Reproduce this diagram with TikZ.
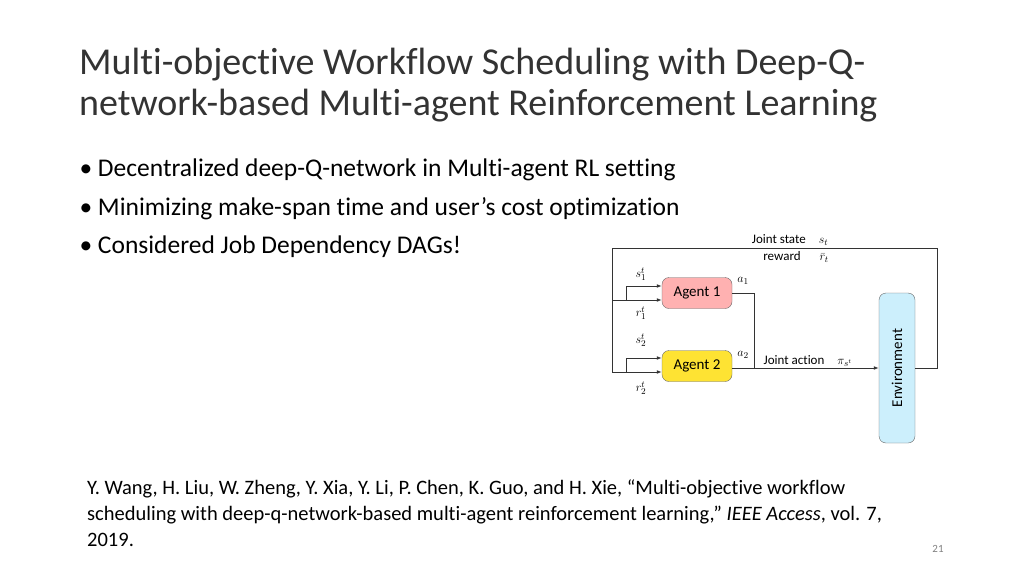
\documentclass[tikz,border=0pt]{standalone}
\usepackage{fontspec}
\setmainfont{Carlito}[RawFeature=-liga]
\usetikzlibrary{positioning,arrows.meta}
\tikzset{
  agent/.style={draw=black!60,rounded corners=7pt,minimum width=70pt,minimum height=31pt,font=\fontsize{15}{17}\selectfont},
  envbox/.style={draw=black!60,fill=cyan!20!white,rounded corners=7pt,minimum width=36pt,minimum height=150pt},
  wire/.style={draw=black!80,line width=0.8pt},
  lbl/.style={font=\fontsize{13}{15}\selectfont,inner sep=1pt},
  bul/.style={anchor=west,font=\fontsize{25.5}{29}\selectfont}
}
\begin{document}
\begin{tikzpicture}[x=1pt,y=-1pt]
  \useasboundingbox (0,0) rectangle (1024,576);
  % title and bullets
  \node[anchor=north west,align=left,font=\fontsize{38}{41}\selectfont,text=black!80,inner sep=0pt] (title) at (79,48)
    {Multi-objective Workflow Scheduling with Deep-Q-\\network-based Multi-agent Reinforcement Learning};
  \node[bul] (b1) at (76,170) {\textbullet\ Decentralized deep-Q-network in Multi-agent RL setting};
  \node[bul] (b2) at (76,209) {\textbullet\ Minimizing make-span time and user’s cost optimization};
  \node[bul] (b3) at (76,247) {\textbullet\ Considered Job Dependency DAGs!};
  % diagram
  \node[agent,fill=red!25!pink!70] (ag1) at (697,293) {Agent 1};
  \node[agent,fill=yellow!80!orange!80] (ag2) at (697,366) {Agent 2};
  \node[envbox] (env) at (897,368) {};
  \node[rotate=90,font=\fontsize{15}{17}\selectfont] (envt) at (env) {Environment};
  \coordinate (tl) at (612,248);
  \coordinate (tr) at (937,248);
  \coordinate (bl) at (612,372);
  \coordinate (k1) at (754,293);
  \draw[wire] (env.east |- 0,368) -- (937,368) -- (tr) -- (tl) -- (bl);
  \draw[wire,-{Latex[length=5pt]}] (612,300) -- (ag1.west |- 0,300);
  \draw[wire,-{Latex[length=5pt]}] (626,300) -- (626,286) -- (ag1.west |- 0,286);
  \draw[wire,-{Latex[length=5pt]}] (bl) -- (ag2.west |- 0,372);
  \draw[wire,-{Latex[length=5pt]}] (626,372) -- (626,358) -- (ag2.west |- 0,358);
  \draw[wire] (ag1.east) -- (k1) -- (754,368);
  \draw[wire,-{Latex[length=5pt]}] (ag2.east |- 0,368) -- (env.west |- 0,368);
  \node[lbl] (l1) at (790,240) {Joint state\quad $s_t$};
  \node[lbl] (l2) at (796,257) {reward\quad\ \ $\bar r_t$};
  \node[lbl] (s1) at (641,274) {$s^t_1$};
  \node[lbl] (r1) at (641,313) {$r^t_1$};
  \node[lbl] (s2) at (641,340) {$s^t_2$};
  \node[lbl] (r2) at (641,388) {$r^t_2$};
  \node[lbl] (a1) at (743,281) {$a_1$};
  \node[lbl] (a2) at (743,355) {$a_2$};
  \node[lbl] (ja) at (808,361) {Joint action\quad $\pi_{s^t}$};
  % reference
  \node[anchor=north west,align=left,font=\fontsize{20.5}{26}\selectfont,inner sep=0pt] (ref) at (87,480)
    {Y. Wang, H. Liu, W. Zheng, Y. Xia, Y. Li, P. Chen, K. Guo, and H. Xie, “Multi-objective workflow\\
     scheduling with deep-q-network-based multi-agent reinforcement learning,” \textit{IEEE Access}, vol. 7,\\
     2019.};
  \node[font=\fontsize{11}{13}\selectfont,text=black!50] (pg) at (938,549) {21};
\end{tikzpicture}
\end{document}
